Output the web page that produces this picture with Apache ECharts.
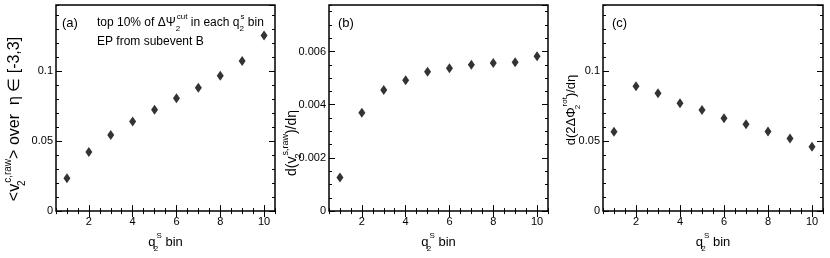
<!DOCTYPE html>
<html>
<head>
<meta charset="utf-8">
<script src="https://cdn.jsdelivr.net/npm/echarts@6/dist/echarts.min.js"></script>
<style>html,body{margin:0;padding:0;background:#fff}#c{width:830px;height:258px}</style>
</head>
<body>
<div id="c"></div>
<script>
// ---- data ----
const bins = [1, 2, 3, 4, 5, 6, 7, 8, 9, 10];
const v2cRaw = [0.0235, 0.0423, 0.0545, 0.0641, 0.0726, 0.0807, 0.0883, 0.0968, 0.1074, 0.1257];
const dv2sRaw = [0.00126, 0.00370, 0.00455, 0.00492, 0.00524, 0.00537, 0.00550, 0.00557, 0.00560, 0.00582];
const dPhiRot = [0.0568, 0.0894, 0.0843, 0.0772, 0.0724, 0.0664, 0.0621, 0.0570, 0.0519, 0.0460];
const xTickLabels = [2, 4, 6, 8, 10];

const FONT = '"Liberation Sans", Arial, Helvetica, sans-serif';
function rich(size) {
  const s = Math.round(size * 0.65);
  return {
    m: { fontSize: size, lineHeight: size + 8, fontFamily: FONT, color: '#000' },
    sb: { fontSize: s, lineHeight: s + 2, verticalAlign: 'bottom', width: 1, fontFamily: FONT, color: '#000' },
    sp: { fontSize: s, lineHeight: s + 2, verticalAlign: 'top', fontFamily: FONT, color: '#000' }
  };
}

const panels = [
  { grid: { left: 56, top: 5, width: 219, height: 214 }, yMax: 0.1475, yInt: 0.05, yMinor: 0.01, data: v2cRaw },
  { grid: { left: 329, top: 5, width: 219, height: 214 }, yMax: 0.00775, yInt: 0.002, yMinor: 0.0005, data: dv2sRaw },
  { grid: { left: 603, top: 5, width: 220, height: 214 }, yMax: 0.1475, yInt: 0.05, yMinor: 0.01, data: dPhiRot }
];

const grids = [], xAxes = [], yAxes = [], series = [];
const tickStyle = { color: '#000', width: 1 };
panels.forEach((p, i) => {
  grids.push(Object.assign({ show: true, borderColor: '#000', borderWidth: 1.5, backgroundColor: 'transparent' }, p.grid));
  const xBase = { gridIndex: i, type: 'value', min: 0.5, max: 10.5, interval: 0.5, axisLine: { show: false }, splitLine: { show: false } };
  const xi = xAxes.length;
  xAxes.push(Object.assign({}, xBase, {
    position: 'bottom',
    axisTick: { show: true, inside: true, length: 6, customValues: xTickLabels, lineStyle: tickStyle },
    axisLabel: { show: true, customValues: xTickLabels, margin: 5, color: '#000', fontSize: 11, fontFamily: FONT },
    name: '{m|q}{sb|2}{sp|S}{m| bin}', nameLocation: 'middle', nameGap: 17,
    nameTextStyle: { rich: rich(13) }
  }));
  xAxes.push(Object.assign({}, xBase, { position: 'bottom', axisTick: { inside: true, length: 3, lineStyle: tickStyle }, axisLabel: { show: false } }));
  xAxes.push(Object.assign({}, xBase, { position: 'top', axisTick: { inside: true, length: 6, customValues: xTickLabels, lineStyle: tickStyle }, axisLabel: { show: false } }));
  xAxes.push(Object.assign({}, xBase, { position: 'top', axisTick: { inside: true, length: 3, lineStyle: tickStyle }, axisLabel: { show: false } }));

  const yBase = { gridIndex: i, type: 'value', min: 0, max: p.yMax, axisLine: { show: false }, splitLine: { show: false } };
  const yi = yAxes.length;
  yAxes.push(Object.assign({}, yBase, {
    position: 'left', interval: p.yInt,
    axisTick: { inside: true, length: 6, lineStyle: tickStyle },
    axisLabel: { showMaxLabel: false, margin: 3, color: '#000', fontSize: 11, fontFamily: FONT }
  }));
  yAxes.push(Object.assign({}, yBase, { position: 'left', interval: p.yMinor, axisTick: { inside: true, length: 3, lineStyle: tickStyle }, axisLabel: { show: false } }));
  yAxes.push(Object.assign({}, yBase, { position: 'right', interval: p.yInt, axisTick: { inside: true, length: 6, lineStyle: tickStyle }, axisLabel: { show: false } }));
  yAxes.push(Object.assign({}, yBase, { position: 'right', interval: p.yMinor, axisTick: { inside: true, length: 3, lineStyle: tickStyle }, axisLabel: { show: false } }));

  series.push({
    type: 'scatter', xAxisIndex: xi, yAxisIndex: yi,
    symbol: 'diamond', symbolSize: [7, 10],
    itemStyle: { color: '#000' },
    data: bins.map((b, k) => [b, p.data[k]]),
    silent: true
  });
});

function txt(x, y, text, size, rot, align) {
  return {
    type: 'text', x: x, y: y, rotation: rot || 0, silent: true,
    style: { text: text, rich: rich(size), align: align || 'left', verticalAlign: 'middle', textAlign: align || 'left', textVerticalAlign: 'middle', fill: '#000' }
  };
}

const graphics = [
  txt(62, 23, '{m|(a)}', 13),
  txt(97, 23, '{m|top 10% of ΔΨ}{sb|2}{sp|cut}{m| in each q}{sb|2}{sp|s}{m| bin}', 12),
  txt(97, 42, '{m|EP from subevent B}', 12),
  txt(338, 23, '{m|(b)}', 13),
  txt(612, 23, '{m|(c)}', 13),
  txt(15, 119, '{m|<v}{sb|2}{sp|c,raw}{m|> over  η ∈ [-3,3]}', 16, Math.PI / 2, 'center'),
  txt(292, 143, '{m|d(v}{sb|2}{sp|s,raw}{m|)/dη}', 14, Math.PI / 2, 'center'),
  txt(571, 110, '{m|d(2ΔΦ}{sb|2}{sp|rot}{m|)/dη}', 13, Math.PI / 2, 'center')
];

const chart = echarts.init(document.getElementById('c'), null, { renderer: 'canvas' });
chart.setOption({
  animation: false,
  grid: grids,
  xAxis: xAxes,
  yAxis: yAxes,
  series: series,
  graphic: graphics
});
</script>
</body>
</html>
